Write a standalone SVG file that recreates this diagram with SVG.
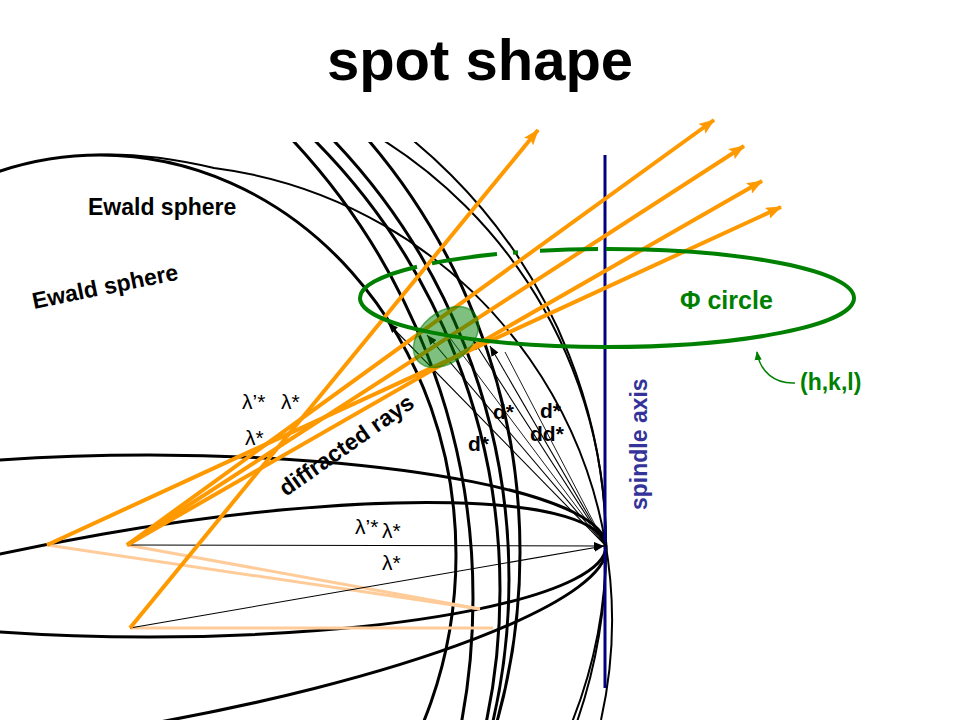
<svg xmlns="http://www.w3.org/2000/svg" width="960" height="720" viewBox="0 0 960 720">
<defs>
<style>
.arc{fill:none;stroke:#000;stroke-width:3}
.arcThin{fill:none;stroke:#000;stroke-width:2}
.ray{fill:none;stroke:#FF9900;stroke-width:4;marker-end:url(#oHead)}
.ghost{fill:none;stroke:#FFCC99;stroke-width:3}
.vec{fill:none;stroke:#000;stroke-width:1.1;marker-end:url(#bHead)}
.phi{fill:none;stroke:#008000;stroke-width:4}
.lbl{font-family:"Liberation Sans",Arial,sans-serif;font-size:21px;fill:#000}
.bold{font-family:"Liberation Sans",Arial,sans-serif;font-weight:bold;fill:#000}
</style>
<marker id="oHead" viewBox="0 0 16 12" refX="15" refY="6" markerWidth="16" markerHeight="12" markerUnits="userSpaceOnUse" orient="auto">
<path d="M0,0 L16,6 L0,12 L3,6 z" fill="#FF9900"/>
</marker>
<marker id="bHead" viewBox="0 0 10 8" refX="10" refY="4" markerWidth="10" markerHeight="8" markerUnits="userSpaceOnUse" orient="auto">
<path d="M0,0 L10,4 L0,8 z" fill="#000"/>
</marker>
<marker id="gHead" viewBox="0 0 10 8" refX="9" refY="4" markerWidth="9" markerHeight="8" markerUnits="userSpaceOnUse" orient="auto">
<path d="M0,0 L10,4 L0,8 z" fill="#008000"/>
</marker>
<clipPath id="clipTop"><rect x="0" y="142" width="960" height="578"/></clipPath>
</defs>
<rect width="960" height="720" fill="#fff"/>

<text class="bold" x="480" y="80" font-size="58" text-anchor="middle">spot shape</text>

<g id="ewald-spheres">
<ellipse class="arc" cx="100" cy="555" rx="356" ry="400"/>
<path class="arcThin" d="M92,155 C130,153 175,159 214,168 A456,456 0 0,1 601,720"/>
<ellipse class="arc" cx="149" cy="546" rx="457" ry="91"/>
<ellipse class="arc" cx="120" cy="630" rx="493" ry="97.5" transform="rotate(-9.8 120 630)"/>
<g clip-path="url(#clipTop)">
<circle class="arc" cx="-198" cy="598" r="671"/>
<circle class="arc" cx="-138" cy="590" r="638"/>
<circle class="arc" cx="-127" cy="579" r="636"/>
<circle class="arc" cx="-115" cy="552" r="635"/>
<circle class="arcThin" cx="77" cy="549" r="529"/>
<circle class="arcThin" cx="127" cy="545" r="479"/>
</g>
</g>

<g id="spindle">
<line x1="605" y1="155" x2="605" y2="688" stroke="#000080" stroke-width="3"/>
<text class="bold" font-size="23" style="fill:#333399" transform="translate(647,510) rotate(-90)">spindle axis</text>
</g>

<g id="connectors">
<line class="ghost" x1="47" y1="545" x2="480" y2="609"/>
<line class="ghost" x1="127" y1="545" x2="480" y2="609"/>
<line class="ghost" x1="130" y1="628" x2="493" y2="628"/>
<line class="vec" x1="127" y1="545" x2="604" y2="546"/>
<line class="vec" x1="130" y1="628" x2="604" y2="546"/>
<line class="vec" stroke-width="0.9" x1="606" y1="546" x2="388" y2="323"/>
<line class="vec" stroke-width="0.9" x1="606" y1="546" x2="427" y2="335"/>
<line class="vec" stroke-width="0.9" x1="606" y1="546" x2="473" y2="340"/>
<line class="vec" stroke-width="0.9" x1="606" y1="546" x2="490" y2="346"/>
<line stroke="#000" stroke-width="0.9" x1="606" y1="546" x2="450" y2="338"/>
<line stroke="#000" stroke-width="0.9" x1="606" y1="546" x2="505" y2="352"/>
<line class="ray" x1="130" y1="628" x2="538" y2="130"/>
<line class="ray" x1="127" y1="545" x2="714" y2="120"/>
<line class="ray" x1="127" y1="545" x2="744" y2="146"/>
<line class="ray" x1="127" y1="545" x2="762" y2="181"/>
<line class="ray" x1="47" y1="545" x2="781" y2="207"/>
</g>

<g id="phi-circle">
<path class="phi" d="M360,298 A247,49 0 0,0 854,298"/>
<path class="phi" d="M360,298 A247,49 0 0,1 417,266.7 M432,263.4 A247,49 0 0,1 497,254.1 M513,252.7 A247,49 0 0,1 518,252.3 M540,250.8 A247,49 0 0,1 598,249.03 M606,249 A247,49 0 0,1 854,298"/>
<text class="bold" x="680" y="309" font-size="25" style="fill:#008000">Φ circle</text>
</g>

<g id="spot">
<ellipse cx="446" cy="337" rx="37" ry="25" transform="rotate(-40 446 337)" fill="#008000" fill-opacity="0.5" stroke="#008000" stroke-opacity="0.55" stroke-width="1.5"/>
</g>

<g id="hkl">
<path d="M795,383 C775,384 760,372 757,352" fill="none" stroke="#008000" stroke-width="1.5" marker-end="url(#gHead)"/>
<text class="bold" x="800" y="390" font-size="23" style="fill:#008000">(h,k,l)</text>
</g>

<g id="labels">
<text class="bold" x="88" y="215" font-size="23">Ewald sphere</text>
<text class="bold" font-size="23" transform="translate(34,309) rotate(-11.5)">Ewald sphere</text>
<text class="bold" font-size="23" transform="translate(286,497) rotate(-35)">diffracted rays</text>
<text class="lbl" x="242" y="409">λ’*</text>
<text class="lbl" x="281" y="409">λ*</text>
<text class="lbl" x="245" y="445">λ*</text>
<text class="lbl" x="355" y="534">λ’*</text>
<text class="lbl" x="382" y="538">λ*</text>
<text class="lbl" x="382" y="570">λ*</text>
<text class="bold" font-size="21" x="493" y="419">d*</text>
<text class="bold" font-size="21" x="540" y="418">d*</text>
<text class="bold" font-size="21" x="530" y="441">dd*</text>
<text class="bold" font-size="21" x="468" y="451">d*</text>
</g>
</svg>
